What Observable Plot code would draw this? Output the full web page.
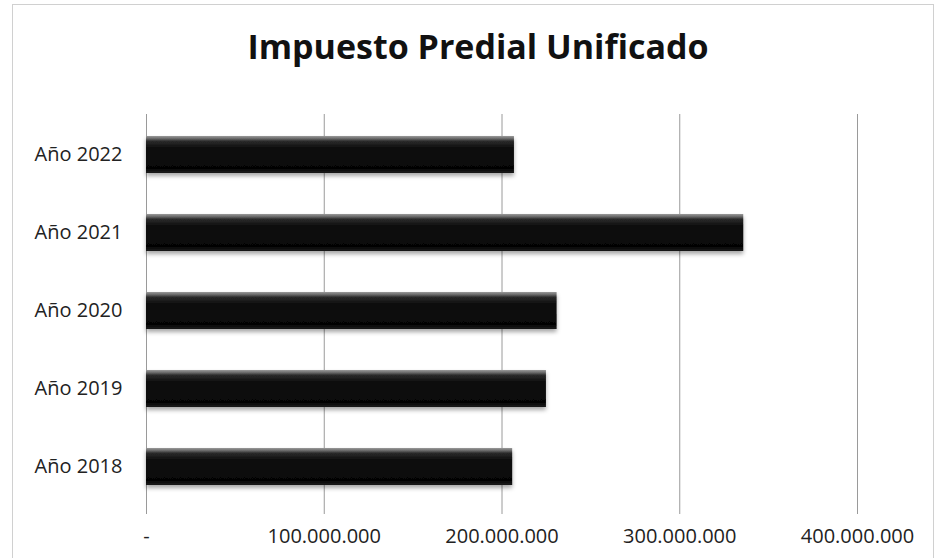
<!DOCTYPE html>
<html>
<head>
<meta charset="utf-8">
<script src="https://cdn.jsdelivr.net/npm/d3@7"></script>
<script src="https://cdn.jsdelivr.net/npm/@observablehq/plot@0.6"></script>
<style>
  html, body { margin: 0; padding: 0; background: #fff; }
  #wrap { position: relative; width: 938px; height: 558px; overflow: hidden; font-family: "Open Sans", sans-serif; }
  #frame { position: absolute; left: 12px; top: 4px; width: 922px; height: 600px; border: 1px solid #d0d0d0; box-sizing: border-box; }
  #title { position: absolute; left: 9px; top: 29px; width: 938px; text-align: center; font-size: 34px; font-weight: 700; line-height: 1; color: #111; }
  #chart { position: absolute; left: 0; top: 0; }
</style>
</head>
<body>
<div id="wrap">
  <div id="frame"></div>
  <div id="chart"></div>
  <div id="title">Impuesto Predial Unificado</div>
</div>
<script>
const years = ["Año 2022", "Año 2021", "Año 2020", "Año 2019", "Año 2018"];
const values = [207000000, 336000000, 231000000, 225000000, 206000000];
const xTicks = [0, 100000000, 200000000, 300000000, 400000000];
const gridTicks = [100000000, 200000000, 300000000, 400000000];

const data = years.map((y, i) => ({year: y, value: values[i]}));
const loc = d3.formatLocale({thousands: ".", decimal: ",", grouping: [3], currency: ["", ""]});
const fmt = loc.format(",.0f");

const chart = Plot.plot({
  width: 938,
  height: 558,
  marginTop: 114,
  marginBottom: 44,
  marginLeft: 146,
  marginRight: 81,
  style: {fontFamily: "Open Sans", fontSize: "20px", color: "#222", background: "transparent"},
  x: {domain: [0, 400000000], ticks: xTicks, tickFormat: d => d === 0 ? "-" : fmt(d), tickSize: 0, tickPadding: 14, label: null},
  y: {domain: years, paddingInner: 0.52, paddingOuter: 0.26, insetBottom: 6, tickSize: 0, tickPadding: 24, label: null},
  marks: [
    Plot.ruleX(gridTicks, {stroke: "#9a9a9a", strokeWidth: 1}),
    Plot.ruleX([0], {stroke: "#9a9a9a", strokeWidth: 1}),
    Plot.barX(data, {x: "value", y: "year", fill: "url(#barGrad)"})
  ]
});

const svg = d3.select(chart);
const defs = svg.insert("defs", ":first-child");
const g = defs.append("linearGradient").attr("id", "barGrad").attr("x1", 0).attr("y1", 0).attr("x2", 0).attr("y2", 1);
[["0%", "#9a9a9a"], ["7%", "#6a6a6a"], ["14%", "#2a2a2a"], ["30%", "#111"], ["88%", "#050505"], ["100%", "#1a1a1a"]]
  .forEach(([o, c]) => g.append("stop").attr("offset", o).attr("stop-color", c));
const f = defs.append("filter").attr("id", "shadow").attr("x", "-5%").attr("y", "-20%").attr("width", "110%").attr("height", "160%");
f.append("feDropShadow").attr("dx", 0).attr("dy", 3).attr("stdDeviation", 2).attr("flood-color", "#000").attr("flood-opacity", 0.35);
svg.selectAll("g[aria-label=bar] rect").attr("filter", "url(#shadow)");

document.getElementById("chart").appendChild(chart);
</script>
</body>
</html>
